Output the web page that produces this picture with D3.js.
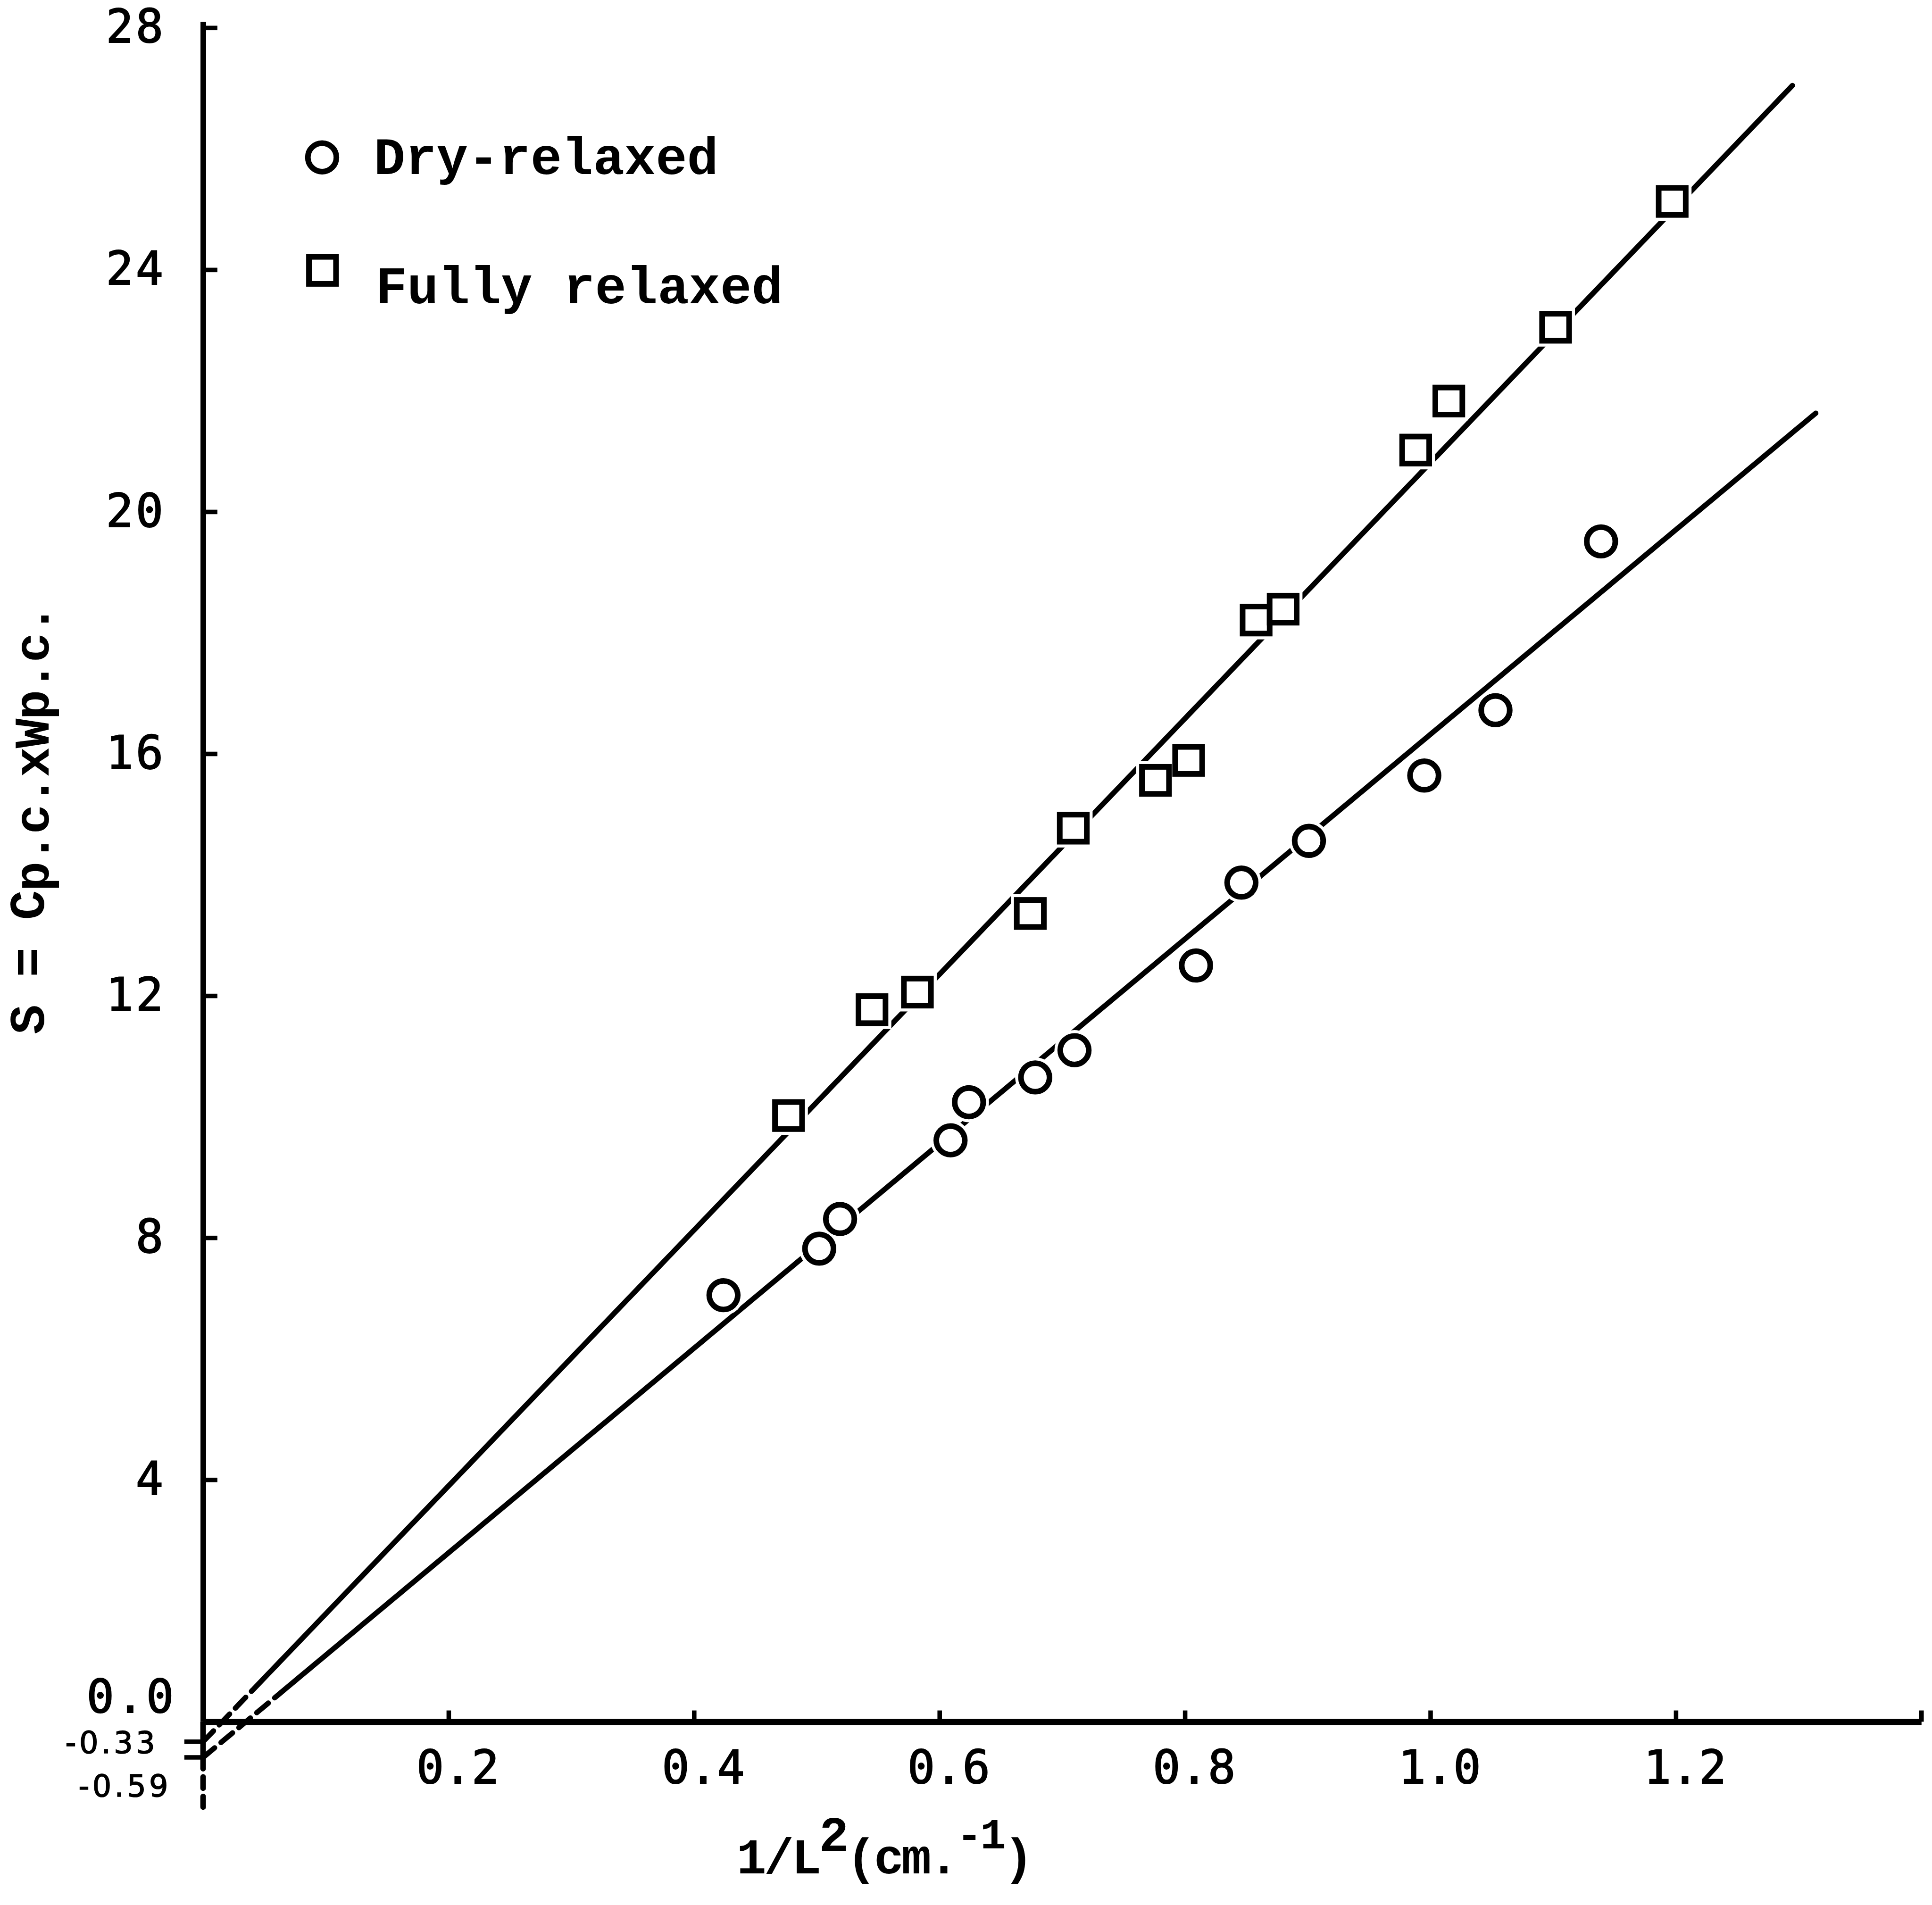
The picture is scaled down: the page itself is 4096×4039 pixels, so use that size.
<!DOCTYPE html>
<html>
<head>
<meta charset="utf-8">
<script src="https://cdn.jsdelivr.net/npm/d3@7"></script>
<style>
  html, body { margin: 0; padding: 0; background: #fff; }
  svg { display: block; }
</style>
</head>
<body>
<svg id="chart"></svg>
<script>
// ---- data -------------------------------------------------------------
const seriesNames = ["Dry-relaxed", "Fully relaxed"];

// Dry-relaxed specimens: 1/L^2 (cm^-1) and S
const dryX = [0.424, 0.502, 0.519, 0.609, 0.624, 0.678, 0.710, 0.809, 0.846, 0.901, 0.995, 1.053, 1.139];
const dryS = [7.05, 7.82, 8.31, 9.61, 10.24, 10.65, 11.10, 12.50, 13.87, 14.56, 15.64, 16.72, 19.51];

// Fully relaxed specimens
const fullyX = [0.477, 0.545, 0.582, 0.674, 0.709, 0.776, 0.803, 0.858, 0.880, 0.988, 1.015, 1.102, 1.197];
const fullyS = [10.02, 11.77, 12.06, 13.36, 14.77, 15.56, 15.89, 18.21, 18.39, 21.02, 21.83, 23.05, 25.13];

// Fitted straight lines, index 0 = fully relaxed, 1 = dry-relaxed
const fitIntercept = [-0.33, -0.59];
const fitSlope     = [21.14, 16.91];
const fitSolidFrom = [0.040, 0.063];
const fitSolidTo   = [1.295, 1.314];
const interceptLabels = ["-0.33", "-0.59"];

// Axis ticks
const xTickValues = [0.2, 0.4, 0.6, 0.8, 1.0, 1.2, 1.4];
const xTickLabels = ["0.2", "0.4", "0.6", "0.8", "1.0", "1.2", ""];
const yTickValues = [0, 4, 8, 12, 16, 20, 24, 28];
const yTickLabels = ["0.0", "4", "8", "12", "16", "20", "24", "28"];

// ---- layout -----------------------------------------------------------
const W = 5146, H = 5074;
const ink = "#000";
const mono = "'Liberation Mono', 'Courier New', monospace";
const digits = "'DejaVu Sans Mono', monospace";

const svg = d3.select("#chart")
  .attr("width", 4096).attr("height", 4039)
  .attr("viewBox", `0 0 ${W} ${H}`);
svg.append("rect").attr("width", W).attr("height", H).attr("fill", "#fff");

const x = d3.scaleLinear().domain([0, 1.4]).range([541, 541 + 1.4 * 3269]);
const y = d3.scaleLinear().domain([0, 28.1]).range([4586, 4586 - 28.1 * 161.15]);

const line = d3.line().x(d => x(d[0])).y(d => y(d[1]));

// ---- axes -------------------------------------------------------------
const gx = svg.append("g")
  .attr("transform", `translate(0,${y(0)})`)
  .call(d3.axisBottom(x)
    .tickValues(xTickValues)
    .tickFormat((d, i) => xTickLabels[i])
    .tickSizeInner(-30).tickSizeOuter(0).tickPadding(78));
gx.attr("font-family", digits).attr("font-size", 122);
gx.select(".domain").attr("stroke", ink).attr("stroke-width", 16);
gx.selectAll(".tick line").attr("stroke", ink).attr("stroke-width", 12);
gx.selectAll(".tick text").attr("fill", ink).attr("dx", 24)
  .attr("stroke", ink).attr("stroke-width", 2.5);

const gy = svg.append("g")
  .attr("transform", `translate(${x(0)},0)`)
  .call(d3.axisLeft(y)
    .tickValues(yTickValues)
    .tickFormat((d, i) => yTickLabels[i])
    .tickSizeInner(-38).tickSizeOuter(0).tickPadding(100));
gy.attr("font-family", digits).attr("font-size", 122);
gy.select(".domain").attr("stroke", ink).attr("stroke-width", 15);
gy.selectAll(".tick line").attr("stroke", ink).attr("stroke-width", 12);
gy.selectAll(".tick text").attr("fill", ink).attr("letter-spacing", 6)
  .attr("stroke", ink).attr("stroke-width", 2.5);
// the zero label sits a little above the horizontal axis
gy.selectAll(".tick text").filter(d => d === 0).attr("y", -64).attr("dx", 28);

// extension of the ordinate below zero, down to the intercepts
const axisExtendTo = -1.41;
svg.append("path")
  .datum([[0, 0], [0, fitIntercept[1]]])
  .attr("d", line).attr("stroke", ink).attr("stroke-width", 15).attr("fill", "none");
svg.append("path")
  .datum([[0, fitIntercept[1]], [0, axisExtendTo]])
  .attr("d", line).attr("stroke", ink).attr("stroke-width", 15).attr("fill", "none")
  .attr("stroke-dasharray", "30 22").attr("stroke-linecap", "round");

// intercept marks and their values
const interceptLabelDy = [30, 104];
const interceptLabelDx = [-120, -85];
fitIntercept.forEach((b, i) => {
  svg.append("line")
    .attr("x1", x(0) - 50).attr("x2", x(0))
    .attr("y1", y(b)).attr("y2", y(b))
    .attr("stroke", ink).attr("stroke-width", 12);
  svg.append("text")
    .attr("x", x(0) + interceptLabelDx[i]).attr("y", y(b) + interceptLabelDy[i])
    .attr("text-anchor", "end")
    .attr("font-family", "'DejaVu Sans', sans-serif")
    .attr("font-size", 80).attr("letter-spacing", 8).attr("fill", ink)
    .attr("stroke", ink).attr("stroke-width", 2)
    .text(interceptLabels[i]);
});

// ---- fitted lines -----------------------------------------------------
fitIntercept.forEach((b, i) => {
  const f = v => b + fitSlope[i] * v;
  svg.append("path")
    .datum([[0, f(0)], [fitSolidFrom[i], f(fitSolidFrom[i])]])
    .attr("d", line).attr("fill", "none")
    .attr("stroke", ink).attr("stroke-width", 14)
    .attr("stroke-dasharray", "40 22").attr("stroke-linecap", "round");
  svg.append("path")
    .datum([[fitSolidFrom[i], f(fitSolidFrom[i])], [fitSolidTo[i], f(fitSolidTo[i])]])
    .attr("d", line).attr("fill", "none")
    .attr("stroke", ink).attr("stroke-width", 14).attr("stroke-linecap", "round");
});

// ---- markers ----------------------------------------------------------
const circR = 38, sqSide = 72, markStroke = 15, halo = 8;

const dryPts = dryX.map((v, i) => [v, dryS[i]]);
const fullyPts = fullyX.map((v, i) => [v, fullyS[i]]);

// white knock-outs so the lines stop short of each symbol
svg.append("g").selectAll("circle").data(dryPts).join("circle")
  .attr("cx", d => x(d[0])).attr("cy", d => y(d[1]))
  .attr("r", circR + markStroke / 2 + halo).attr("fill", "#fff");
svg.append("g").selectAll("rect").data(fullyPts).join("rect")
  .attr("x", d => x(d[0]) - sqSide / 2 - markStroke / 2 - halo)
  .attr("y", d => y(d[1]) - sqSide / 2 - markStroke / 2 - halo)
  .attr("width", sqSide + markStroke + 2 * halo)
  .attr("height", sqSide + markStroke + 2 * halo)
  .attr("fill", "#fff");

svg.append("g").selectAll("circle").data(dryPts).join("circle")
  .attr("cx", d => x(d[0])).attr("cy", d => y(d[1]))
  .attr("r", circR).attr("fill", "#fff")
  .attr("stroke", ink).attr("stroke-width", markStroke);
svg.append("g").selectAll("rect").data(fullyPts).join("rect")
  .attr("x", d => x(d[0]) - sqSide / 2).attr("y", d => y(d[1]) - sqSide / 2)
  .attr("width", sqSide).attr("height", sqSide)
  .attr("fill", "#fff").attr("stroke", ink).attr("stroke-width", markStroke);

// ---- legend -----------------------------------------------------------
const legend = svg.append("g").attr("font-family", mono).attr("font-size", 139)
  .attr("font-weight", "bold").attr("fill", ink);
legend.append("circle").attr("cx", 858).attr("cy", 419).attr("r", circR)
  .attr("fill", "#fff").attr("stroke", ink).attr("stroke-width", markStroke);
legend.append("text").attr("x", 996).attr("y", 464).text(seriesNames[0]);
legend.append("rect").attr("x", 859 - sqSide / 2).attr("y", 720 - sqSide / 2)
  .attr("width", sqSide).attr("height", sqSide)
  .attr("fill", "#fff").attr("stroke", ink).attr("stroke-width", markStroke);
legend.append("text").attr("x", 1001).attr("y", 808).text(seriesNames[1]);

// ---- axis titles ------------------------------------------------------
const xt = svg.append("text")
  .attr("x", 1962).attr("y", 4990)
  .attr("font-family", mono).attr("font-size", 132).attr("font-weight", "bold")
  .attr("fill", ink).attr("letter-spacing", -6);
xt.append("tspan").text("1/L");
xt.append("tspan").attr("dy", -59).text("2");
xt.append("tspan").attr("dy", 59).text("(cm.");
xt.append("tspan").attr("dy", -67).attr("font-size", 115).text("-1");
xt.append("tspan").attr("dy", 67).text(")");

const yt = svg.append("text")
  .attr("transform", "translate(117,2755) rotate(-90)")
  .attr("font-family", mono).attr("font-size", 132).attr("font-weight", "bold")
  .attr("fill", ink).attr("letter-spacing", -3);
yt.append("tspan").text("S = C");
yt.append("tspan").attr("dy", 13).text("p.c.xWp.c.");
</script>
</body>
</html>
